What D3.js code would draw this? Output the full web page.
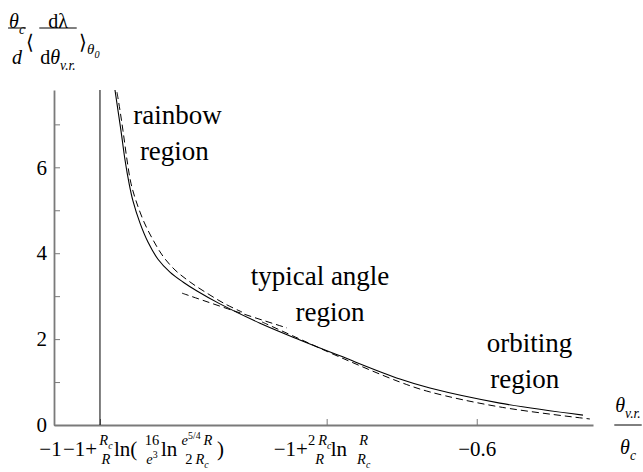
<!DOCTYPE html>
<html>
<head>
<meta charset="utf-8">
<script src="https://cdn.jsdelivr.net/npm/d3@7"></script>
<style>
body { margin: 0; background: #fff; }
</style>
</head>
<body>
<div id="chart"></div>
<script>
// curves, [x, y] in axis units
const exactCurve = [
	[-0.9423, 7.80], [-0.9395, 7.33], [-0.9366, 6.85], [-0.9328, 6.17], [-0.9290, 5.63],
	[-0.9253, 5.22], [-0.9186, 4.70], [-0.9111, 4.26], [-0.9016, 3.86], [-0.8903, 3.56],
	[-0.8780, 3.33], [-0.8647, 3.12], [-0.8430, 2.82], [-0.8051, 2.37], [-0.7673, 1.98],
	[-0.7294, 1.61], [-0.6727, 1.07], [-0.6443, 0.86], [-0.5781, 0.51], [-0.4995, 0.23]
];
const rainbowApprox = [
	[-0.9404, 7.75], [-0.9376, 7.33], [-0.9347, 6.85], [-0.9309, 6.17], [-0.9272, 5.63],
	[-0.9224, 5.22], [-0.9149, 4.73], [-0.9063, 4.31], [-0.8969, 3.93], [-0.8855, 3.61],
	[-0.8713, 3.33], [-0.8553, 3.07], [-0.8382, 2.82], [-0.8221, 2.63]
];
const typicalApprox = [[-0.8789, 3.07], [-0.8288, 2.65], [-0.7796, 2.26]];
const orbitingApprox = [
	[-0.8032, 2.40], [-0.7673, 2.00], [-0.7294, 1.58], [-0.6727, 1.00],
	[-0.6443, 0.77], [-0.5781, 0.42], [-0.4929, 0.14]
];
const asymptoteX = -0.9565;
const typicalTickX = -0.742;
const xTickValues = [-1, asymptoteX, typicalTickX, -0.6];
const xTickLabels = {"-1": "\u22121", "-0.6": "\u22120.6"};
const yMajorTicks = [0, 2, 4, 6];
const yMinorTicks = [1, 3, 5, 7];
// region names: centre x and baseline y in axis units
const regionNames = ["rainbow", "region", "typical angle", "region", "orbiting", "region"];
const regionX = [-0.8832, -0.8861, -0.7483, -0.7389, -0.5500, -0.5546];
const regionY = [7.0, 6.16, 3.27, 2.43, 1.70, 0.86];

// pieces of the math labels
const it = t => ({t: t, i: 1}),
	up = t => ({t: t}),
	sub = t => ({t: t, i: 1, s: 'sub'}),
	sup = t => ({t: t, s: 'sup'});

const width = 643, height = 472;
const serif = '"Liberation Serif"';

const x = d3.scaleLinear().domain([-1, -0.49]).range([54, 593]);
const y = d3.scaleLinear().domain([0, 7.8]).range([425, 90]);

const svg = d3.select("#chart").append("svg")
	.attr("width", width)
	.attr("height", height)
	.style("font-family", serif);

// writes a list of pieces into a text element, handling sub/superscripts
function rich(text, parts, size) {
	let off = 0;
	parts.forEach(p => {
		const target = p.s === 'sub' ? size * 0.28 : p.s === 'sup' ? -size * 0.42 : 0;
		text.append('tspan')
			.attr('dy', target - off)
			.attr('font-size', p.s ? size * 0.68 : size)
			.attr('font-style', p.i ? 'italic' : null)
			.text(p.t);
		off = target;
	});
	return text;
}

// items: {at, parts} starts text at x; {at, num, den} centres a fraction at x
function mathLabel(items, x0, base, size, fracSize, numDy, denDy, bars) {
	const g = svg.append('g').attr('transform', `translate(${x0},${base})`);
	items.forEach(d => {
		if (d.num) {
			const n = rich(g.append('text').style('font-family', serif).attr('x', d.at).attr('y', numDy).attr('text-anchor', 'middle'), d.num, fracSize);
			const m = rich(g.append('text').style('font-family', serif).attr('x', d.at).attr('y', denDy).attr('text-anchor', 'middle'), d.den, fracSize);
			if (bars) {
				const w = Math.max(n.node().getComputedTextLength(), m.node().getComputedTextLength()) + 2;
				g.append('line')
					.attr('x1', d.at - w / 2).attr('x2', d.at + w / 2)
					.attr('y1', d.bar).attr('y2', d.bar)
					.attr('stroke', '#000').attr('stroke-width', 1);
			}
		} else {
			rich(g.append('text').style('font-family', serif).attr('x', d.at).attr('y', d.dy || 0), d.parts, d.size || size);
		}
	});
	return g;
}

// y axis, ticks pointing into the plot
const axisColor = '#7a7a7a';
svg.append('g')
	.attr('transform', `translate(${x(-1)},0)`)
	.call(d3.axisLeft(y).tickValues(yMinorTicks).tickSize(-6).tickSizeOuter(0).tickFormat(''))
	.call(g => g.select('.domain').remove())
	.attr('color', axisColor);

svg.append('g')
	.attr('transform', `translate(${x(-1)},0)`)
	.call(d3.axisLeft(y).tickValues(yMajorTicks).tickSize(-6).tickSizeOuter(0).tickPadding(7))
	.attr('color', axisColor)
	.attr('font-size', 21)
	.call(g => g.select('.domain').attr('stroke-width', 1.8))
	.call(g => g.selectAll('text').style('fill', '#000').style('font-family', serif));

// x axis
svg.append('g')
	.attr('transform', `translate(0,${y(0)})`)
	.call(d3.axisBottom(x).tickValues(xTickValues).tickSize(-6).tickSizeOuter(0).tickPadding(16)
		.tickFormat(d => xTickLabels[d] || ''))
	.attr('color', axisColor)
	.attr('font-size', 21)
	.call(g => g.select('.domain').attr('stroke-width', 1.8))
	.call(g => g.selectAll('text').style('fill', '#000').style('font-family', serif))
	.call(g => g.selectAll('.tick').filter(d => d === -1).select('text').attr('dx', -4));

// asymptote
svg.append('line')
	.attr('x1', x(asymptoteX)).attr('x2', x(asymptoteX))
	.attr('y1', y(0)).attr('y2', y(7.8))
	.attr('stroke', '#000').attr('stroke-width', 1);

// curves
const line = d3.line()
	.x(d => x(d[0]))
	.y(d => y(d[1]))
	.curve(d3.curveCatmullRom.alpha(0.5));

svg.append('path')
	.attr('d', line(exactCurve))
	.attr('fill', 'none').attr('stroke', '#000').attr('stroke-width', 1.1);

[rainbowApprox, typicalApprox, orbitingApprox].forEach(s => {
	svg.append('path')
		.attr('d', line(s))
		.attr('fill', 'none').attr('stroke', '#000').attr('stroke-width', 1)
		.attr('stroke-dasharray', '7,4');
});

// region names
svg.selectAll('.region')
	.data(regionNames)
	.join('text')
	.attr('class', 'region')
	.style('font-family', serif)
	.attr('x', (d, i) => x(regionX[i]))
	.attr('y', (d, i) => y(regionY[i]))
	.attr('text-anchor', 'middle')
	.attr('font-size', 27)
	.text(d => d);

// x tick labels written as formulas
const Rc = [it('R'), sub('c')];
mathLabel([
	{at: -37, parts: [up('\u22121+')]},
	{at: 6, num: Rc, den: [it('R')]},
	{at: 14, parts: [up('ln(')]},
	{at: 52, num: [up('16')], den: [it('e'), sup('3')]},
	{at: 61, parts: [up('ln')]},
	{at: 97, num: [it('e'), sup('5/4'), it('\u2009R')], den: [up('2\u2009'), ...Rc]},
	{at: 117, parts: [up(')')]}
], x(asymptoteX), 456, 21, 14.5, -11, 8, false);

mathLabel([
	{at: -53, parts: [up('\u22121+')]},
	{at: -7, num: [up('2\u2009'), ...Rc], den: [it('R')]},
	{at: 4, parts: [up('ln')]},
	{at: 37, num: [it('R')], den: Rc}
], x(typicalTickX), 456, 21, 14.5, -11, 8, false);

// y axis title
mathLabel([
	{at: 17, num: [it('\u03b8'), sub('c')], den: [it('d')], bar: -14},
	{at: 26, parts: [up('\u27e8')], dy: 7},
	{at: 58, num: [up('d\u03bb')], den: [up('d'), it('\u03b8'), sub('v.r.')], bar: -14},
	{at: 79, parts: [up('\u27e9')], dy: 7},
	{at: 87, parts: [it('\u03b8'), sub('0')], dy: 12, size: 15}
], 0, 42, 20, 20, -14, 22, true);

// x axis title
mathLabel([
	{at: 628, num: [it('\u03b8'), sub('v.r.')], den: [it('\u03b8'), sub('c')], bar: 0}
], 0, 425, 20, 20, -13, 29, true);
</script>
</body>
</html>
